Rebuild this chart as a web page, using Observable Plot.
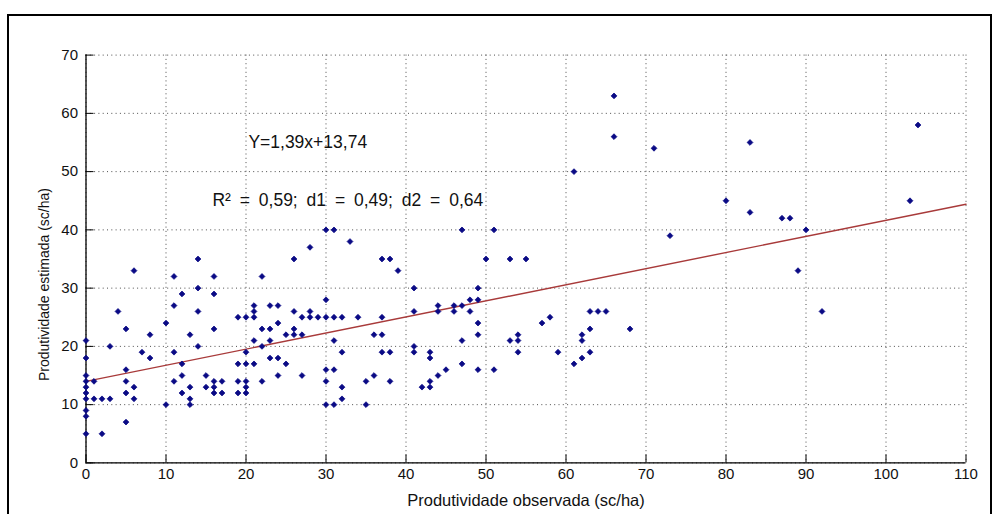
<!DOCTYPE html>
<html><head><meta charset="utf-8">
<script src="https://cdn.jsdelivr.net/npm/d3@7"></script>
<script src="https://cdn.jsdelivr.net/npm/@observablehq/plot@0.6"></script>
<style>
html,body{margin:0;padding:0;background:#fff;width:992px;height:514px;overflow:hidden;}
#wrap{position:relative;width:992px;height:514px;}
#wrap svg{position:absolute;left:0;top:0;}
#frame{position:absolute;left:7px;top:14px;width:981px;height:520px;border:2px solid #000;pointer-events:none;}
.r2 text{word-spacing:4px;}
</style></head><body><div id="wrap"><div id="frame"></div></div>
<script>
// Observed yield (x) and estimated yield (y), sc/ha
const observada = [0,0,0,0,0,0,0,0,0,0, 1,1, 2,2, 3,3, 4, 5,5,5,5,5, 6,6,6, 7, 8,8, 10,10, 11,11,11,11, 12,12,12,12, 13,13,13,13, 14,14,14,14, 15,15, 16,16,16,16,16,16, 17,17, 19,19,19,19, 20,20,20,20,20,20, 21,21,21,21,21, 22,22,22,22, 23,23,23,23, 24,24,24,24, 25,25, 26,26,26,26, 27,27,27, 28,28,28, 29, 30,30,30,30,30,30, 31,31,31,31,31, 32,32,32,32, 33, 34, 35,35, 36,36, 37,37,37,37, 38,38,38, 39, 41,41,41,41, 42, 43,43,43,43, 44,44,44, 45, 46,46, 47,47,47,47, 48,48, 49,49,49,49,49, 50, 51,51, 53,53, 54,54,54, 55, 57, 58, 59, 61,61, 62,62,62, 63,63,63, 64, 65, 66,66, 68, 71, 73, 80, 83,83, 87, 88, 89, 90, 92, 103, 104];
const estimada = [21,18,15,14,13,12,11,9,8,5, 14,11, 11,5, 20,11, 26, 23,16,14,12,7, 33,13,11, 19, 22,18, 24,10, 32,27,19,14, 29,17,15,12, 22,13,11,10, 35,30,26,20, 15,13, 32,29,23,14,13,12, 14,12, 25,17,14,12, 25,19,17,14,13,12, 27,26,25,21,17, 32,23,20,14, 27,23,21,18, 27,24,18,15, 22,17, 35,26,23,22, 25,22,15, 37,26,25, 25, 40,28,25,16,14,10, 40,25,21,16,10, 25,19,13,11, 38, 25, 14,10, 22,15, 35,25,22,19, 35,19,14, 33, 30,26,20,19, 13, 19,18,14,13, 27,26,15, 16, 27,26, 40,27,21,17, 28,26, 30,28,24,22,16, 35, 40,16, 35,21, 22,21,19, 35, 24, 25, 19, 50,17, 22,21,18, 26,23,19, 26, 26, 63,56, 23, 54, 39, 45, 55,43, 42, 42, 33, 40, 26, 45, 58];

// Fitted line end points
const fitX = [0, 110];
const fitY = [14.0, 44.4];

const xTicks = [0,10,20,30,40,50,60,70,80,90,100,110];
const yTicks = [0,10,20,30,40,50,60,70];

const xLabel = "Produtividade observada (sc/ha)";
const yLabel = "Produtividade estimada (sc/ha)";
const annoText = ["Y=1,39x+13,74", "R\u00B2 = 0,59; d1 = 0,49; d2 = 0,64"];
const annoX = [20.3, 15.8];
const annoY = [55.1, 45];

const points = observada.map((x, i) => ({x, y: estimada[i]}));
const fit = fitX.map((x, i) => ({x, y: fitY[i]}));
const eq = annoText.map((t, i) => ({t, x: annoX[i], y: annoY[i]}));

const chart = Plot.plot({
  width: 992, height: 514,
  marginLeft: 85.5, marginRight: 26.5, marginTop: 54.6, marginBottom: 51.6,
  style: {fontFamily: "'Liberation Sans', Arial, sans-serif", background: "transparent", color: "#111"},
  x: {domain: [0, 110]},
  y: {domain: [0, 70]},
  marks: [
    Plot.gridX(xTicks, {stroke: "#222", strokeOpacity: 0.8, strokeDasharray: "1,3.3"}),
    Plot.gridY(yTicks, {stroke: "#222", strokeOpacity: 0.8, strokeDasharray: "1,3.3"}),
    Plot.ruleX([0], {stroke: "#000", strokeWidth: 1.3}),
    Plot.ruleY([0], {stroke: "#000", strokeWidth: 1.3}),
    Plot.tickX(xTicks, {stroke: "#000", insetTop: 399.8}),
    Plot.tickY(yTicks, {stroke: "#000", insetRight: 872}),
    Plot.line(fit, {x: "x", y: "y", stroke: "#a83a3a", strokeWidth: 1.4}),
    Plot.dot(points, {x: "x", y: "y", symbol: "diamond2", r: 2.6, fill: "#0a0a85", stroke: "#0a0a85", strokeWidth: 0.8}),
    Plot.axisX(xTicks, {tickSize: 0, tickPadding: 5, fontSize: 15, label: null}),
    Plot.axisY(yTicks, {tickSize: 0, tickPadding: 8, fontSize: 15, label: null}),
    Plot.text([xLabel], {text: d => d, frameAnchor: "bottom", lineAnchor: "middle", textAnchor: "middle", dy: 37.6, fontSize: 16.5, fill: "#111"}),
    Plot.text([yLabel], {text: d => d, frameAnchor: "left", lineAnchor: "middle", textAnchor: "middle", rotate: -90, dx: -41.5, dy: 25.5, fontSize: 14, fill: "#111"}),
    Plot.text(eq.slice(0, 1), {x: "x", y: "y", text: "t", textAnchor: "start", fontSize: 17.5, fill: "#111"}),
    Plot.text(eq.slice(1), {x: "x", y: "y", text: "t", textAnchor: "start", fontSize: 17.5, fill: "#111", className: "r2"})
  ]
});
document.getElementById("wrap").prepend(chart);
</script>
</body></html>
